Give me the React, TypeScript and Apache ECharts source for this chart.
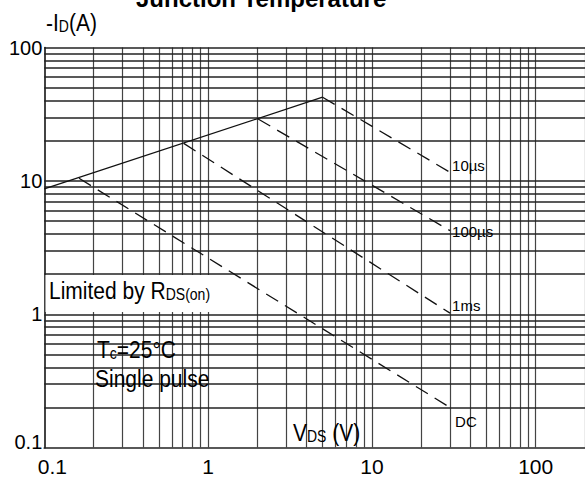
import React, { useEffect, useRef } from "react";
import * as echarts from "echarts";

// ---- data ----
const xTickValues = [0.1, 1, 10, 100];
const yTickValues = [0.1, 1, 10, 100];
const xGridLines = [0.2, 0.3, 0.4, 0.5, 0.6, 0.7, 0.8, 0.9, 1, 2, 3, 4, 5, 6, 7, 8, 9, 10, 20, 30, 40, 50, 60, 70, 80, 90, 100, 200];
const yGridLines = [0.2, 0.3, 0.4, 0.5, 0.6, 0.7, 0.8, 0.9, 1, 2, 3, 4, 5, 6, 7, 8, 9, 10, 20, 30, 40, 50, 60, 70, 80, 90, 100];

// V_DS (V), -I_D (A)
const rdsLimit = [[0.1, 8.7], [5, 42.4]];
const pulse10us = [[5, 42.4], [30, 11.6]];
const pulse100us = [[2.02, 29.1], [30, 4.24]];
const pulse1ms = [[0.71, 19.1], [30, 1.02]];
const dcLine = [[0.163, 10.46], [30, 0.2]];

const curveLabels = ["10µs", "100µs", "1ms", "DC"];

const FONT = "'Liberation Sans', Arial, Helvetica, sans-serif";

export default function App() {
  const ref = useRef<HTMLDivElement>(null);
  useEffect(() => {
    if (!ref.current) return;
    const chart = echarts.init(ref.current, null, { renderer: "svg" });

    const vStyle = { color: "#444", width: 1.2, type: "solid" };
    const hStyle = { color: "#222", width: 1.7, type: "solid" };
    const gridMarks = [
      ...xGridLines.map((v) => ({ xAxis: v, lineStyle: vStyle })),
      ...yGridLines.map((v) => ({ yAxis: v, lineStyle: hStyle })),
    ];

    const dashedSeries = (data: number[][], name: string, offset: number[]) => ({
      type: "line",
      name,
      z: 10,
      showSymbol: true,
      symbol: "circle",
      symbolSize: 0,
      lineStyle: { color: "#111", width: 1.3, type: [14, 8] },
      itemStyle: { color: "#111" },
      data: data.map((d, i) =>
        i === data.length - 1
          ? {
              value: d,
              label: {
                show: true,
                position: "right",
                distance: 2,
                offset,
                formatter: name,
                fontSize: 15,
                fontFamily: FONT,
                color: "#000",
              },
            }
          : { value: d }
      ),
    });

    const label = (x: number, y: number, rich: string, z = 100) => ({
      type: "text",
      x,
      y,
      scaleY: 1.12,
      z,
      style: {
        text: rich,
        textVerticalAlign: "bottom",
        fill: "#000",
        rich: {
          a: { fontSize: 21, lineHeight: 21, fontFamily: FONT, verticalAlign: "bottom", fill: "#000" },
          s: { fontSize: 14, lineHeight: 14, fontFamily: FONT, verticalAlign: "bottom", fill: "#000" },
        },
      },
    });

    chart.setOption({
      animation: false,
      backgroundColor: "#fff",
      grid: { left: 44.3, right: 0, top: 47.5, bottom: 31.3, containLabel: false },
      xAxis: {
        type: "log",
        logBase: 10,
        min: 0.1,
        max: 200,
        axisLine: { show: true, lineStyle: { color: "#222", width: 1.7 } },
        axisTick: { show: false },
        splitLine: { show: false },
        axisLabel: {
          fontSize: 21,
          fontFamily: FONT,
          color: "#000",
          margin: 8,
          showMaxLabel: false,
          formatter: (v: number) => {
            const t = xTickValues.find((k) => Math.abs(k - v) / k < 1e-6);
            if (t === undefined) return "";
            return t === 0.1 ? "{l|0.1}" : String(t);
          },
          rich: { l: { fontSize: 21, fontFamily: FONT, color: "#000", padding: [0, 0, 0, 16] } },
        },
      },
      yAxis: {
        type: "log",
        logBase: 10,
        min: 0.1,
        max: 100,
        axisLine: { show: true, lineStyle: { color: "#222", width: 1.7 } },
        axisTick: { show: false },
        splitLine: { show: false },
        axisLabel: {
          fontSize: 20,
          fontFamily: FONT,
          color: "#000",
          margin: 2,
          formatter: (v: number) => {
            const t = yTickValues.find((k) => Math.abs(k - v) / k < 1e-6);
            if (t === undefined) return "";
            return t === 0.1 ? "{l|0.1}" : String(t);
          },
          rich: { l: { fontSize: 20, fontFamily: FONT, color: "#000", padding: [0, 0, 12, 0] } },
        },
      },
      series: [
        {
          type: "line",
          name: "grid",
          z: 1,
          symbol: "none",
          silent: true,
          lineStyle: { width: 0 },
          data: [[0.1, 0.1]],
          markLine: {
            z: 1,
            silent: true,
            symbol: ["none", "none"],
            label: { show: false },
            emphasis: { disabled: true },
            data: gridMarks,
          },
        },
        {
          type: "line",
          name: "Limited by RDS(on)",
          z: 10,
          symbol: "none",
          lineStyle: { color: "#111", width: 1.3, type: "solid" },
          data: rdsLimit,
        },
        dashedSeries(pulse10us, curveLabels[0], [0, -7]),
        dashedSeries(pulse100us, curveLabels[1], [0, 1]),
        dashedSeries(pulse1ms, curveLabels[2], [0, -8]),
        dashedSeries(dcLine, curveLabels[3], [3, 14]),
      ],
      graphic: [
        {
          type: "rect",
          z: 50,
          shape: { x: 45.5, y: 275, width: 182, height: 37 },
          style: { fill: "#fff" },
        },
        label(49, 303, "{a|Limited by R}{s|DS(on)}"),
        label(97, 362, "{a|T}{s|c}{a|=25°C}"),
        label(95, 391, "{a|Single pulse}"),
        label(293, 445, "{a|V}{s|DS}{a| (V)}"),
        label(46, 35, "{a|-I}{s|D}{a|(A)}"),
        {
          type: "text",
          x: 136,
          y: 10,
          z: 100,
          style: {
            text: "Junction Temperature",
            font: `bold 24px ${FONT}`,
            fill: "#000",
            textVerticalAlign: "bottom",
          },
        },
      ],
    });
    return () => chart.dispose();
  }, []);
  return (
    <div
      ref={ref}
      style={{ position: "fixed", left: 0, top: 0, width: 585, height: 479, background: "#fff" }}
    />
  );
}
